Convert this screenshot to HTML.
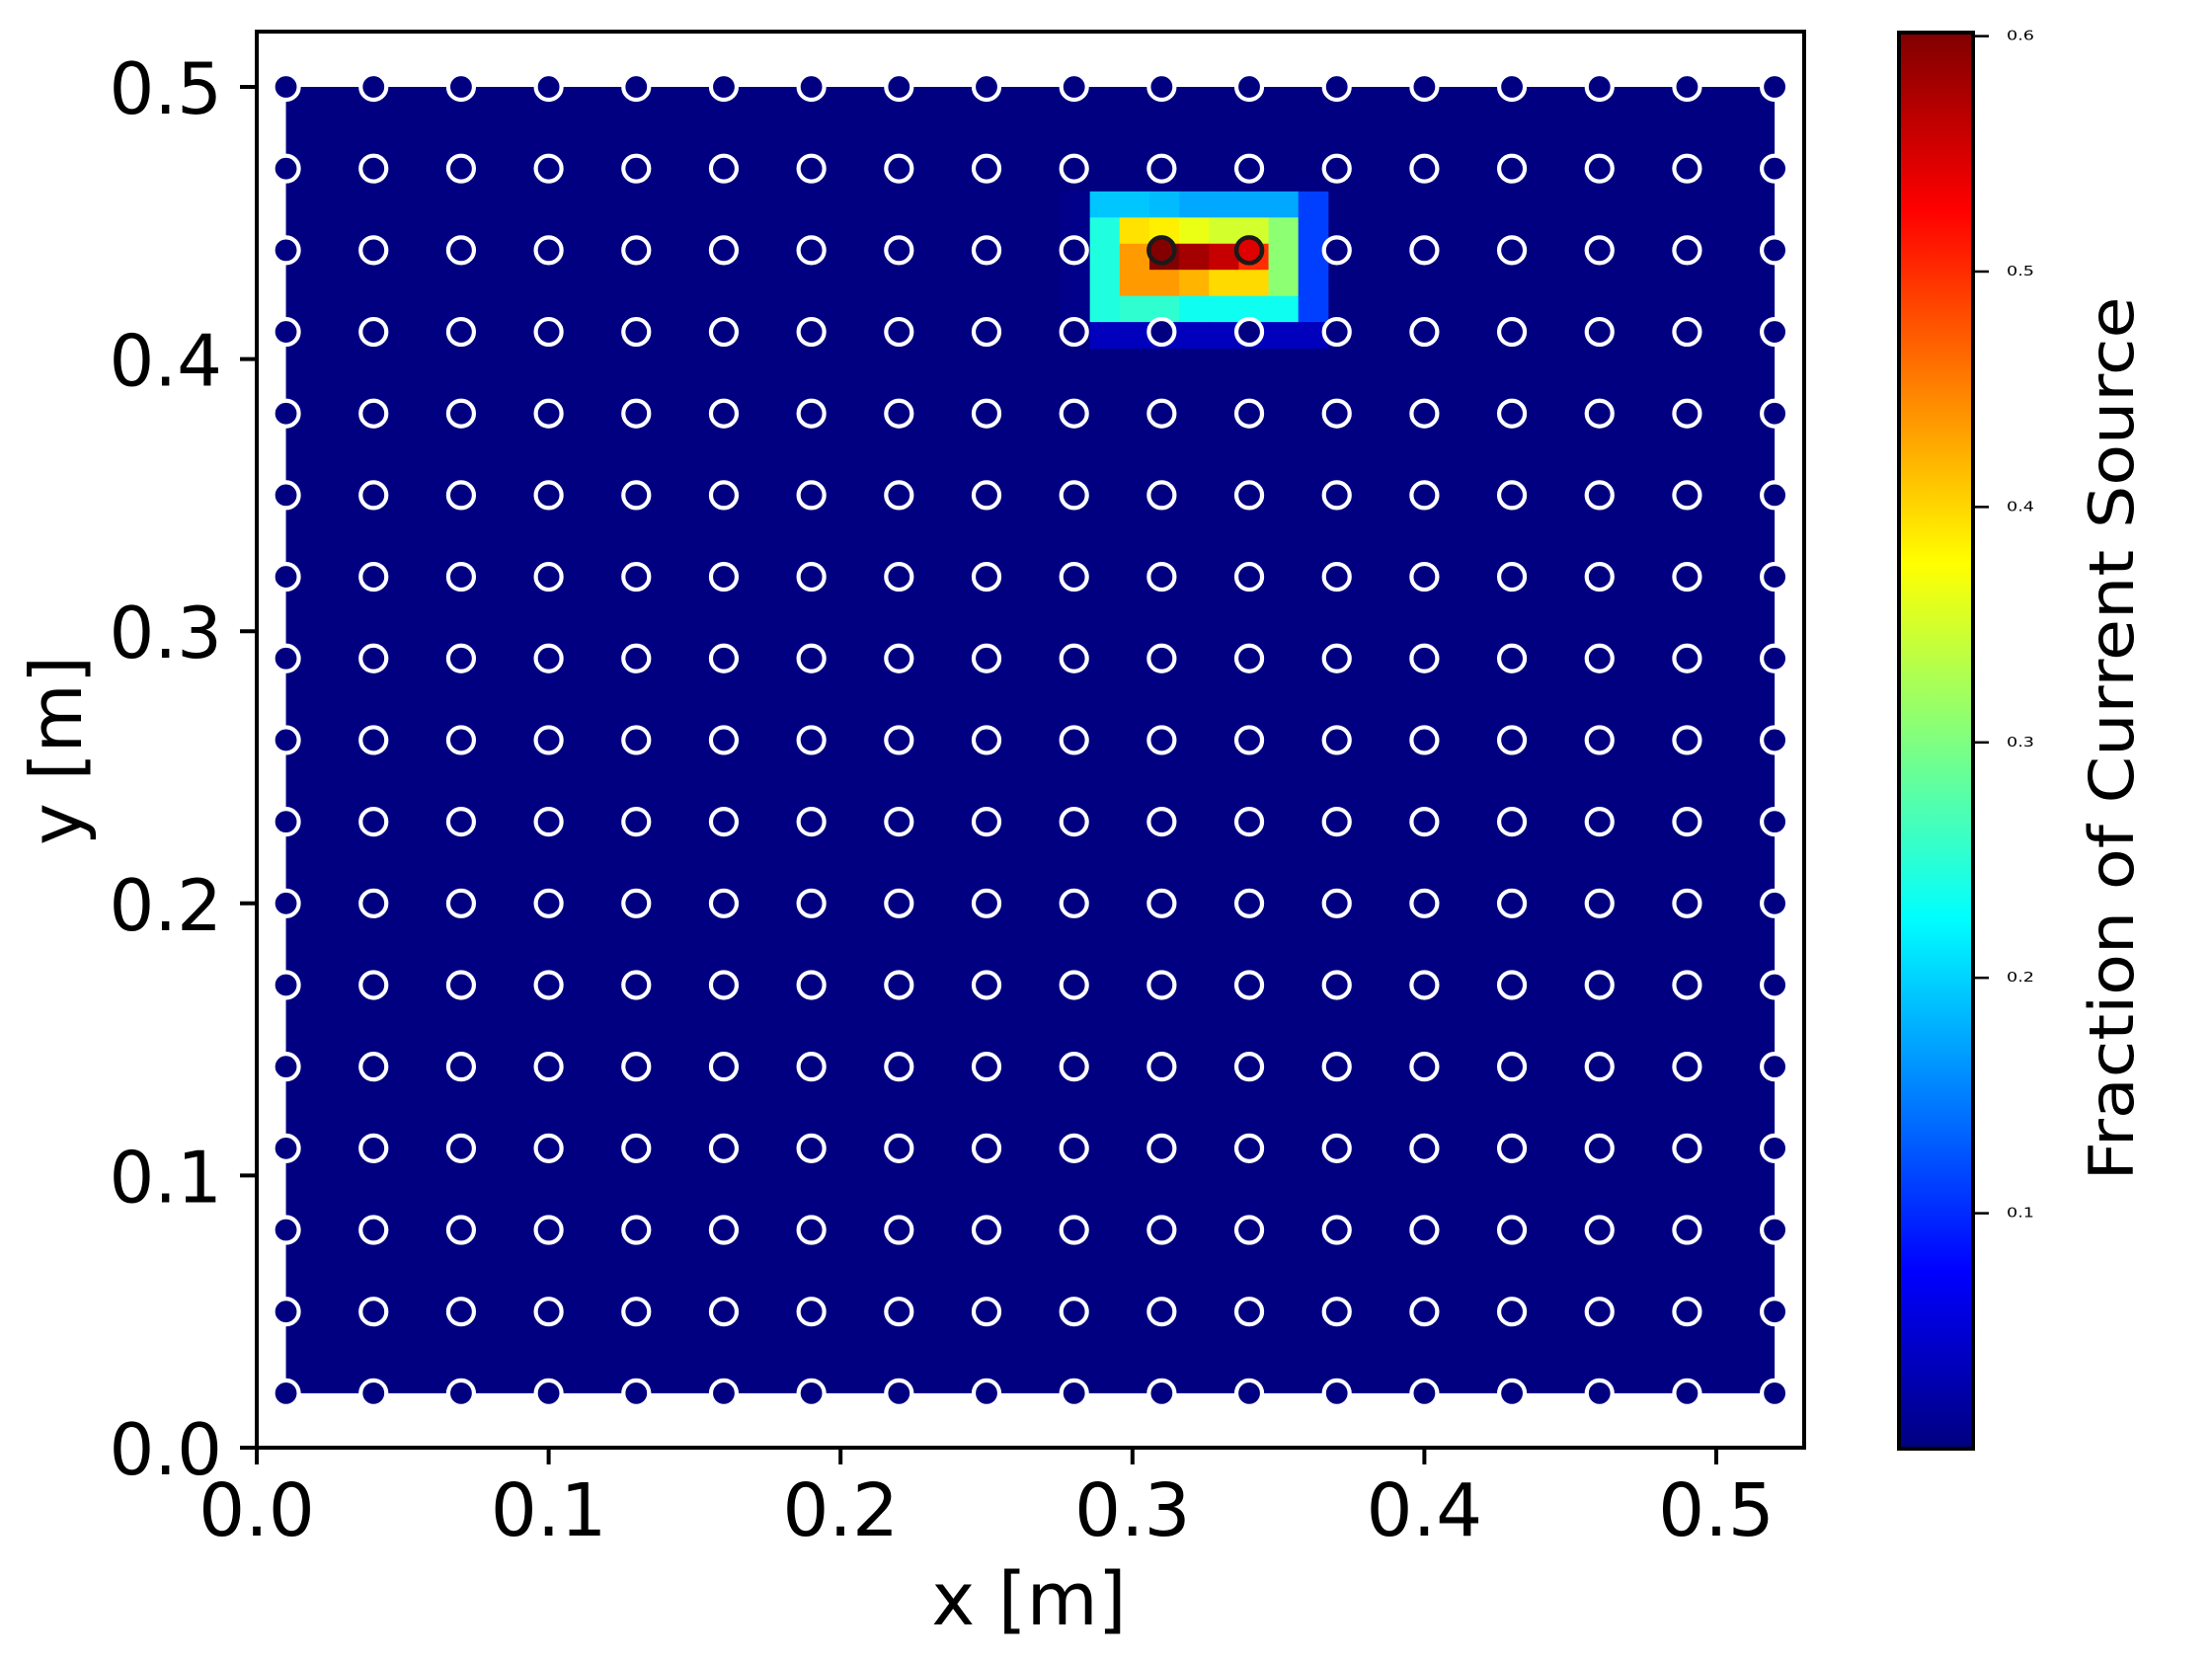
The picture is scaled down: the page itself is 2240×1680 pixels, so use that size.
<!DOCTYPE html>
<html><head><meta charset="utf-8">
<style>
html,body{margin:0;padding:0;background:#fff;}
svg{display:block;font-family:"DejaVu Sans","Liberation Sans",sans-serif;}
</style></head>
<body>
<svg id="chart" width="2240" height="1680" viewBox="0 0 2240 1680" xmlns="http://www.w3.org/2000/svg">
<defs>
<linearGradient id="jetgrad" x1="0" y1="1" x2="0" y2="0"></linearGradient>
<clipPath id="plotclip"><rect x="260" y="32" width="1567" height="1434"/></clipPath>
</defs>
<rect x="0" y="0" width="2240" height="1680" fill="#fff"/>
<g id="heat" clip-path="url(#plotclip)"></g>
<g id="markers" clip-path="url(#plotclip)"></g>
<rect x="260" y="32" width="1567" height="1434" fill="none" stroke="#000" stroke-width="4"/>
<g id="xticks"></g>
<g id="yticks"></g>
<text x="1042" y="1645" font-size="74" text-anchor="middle">x [m]</text>
<text transform="translate(82,760) rotate(-90)" font-size="72" text-anchor="middle">y [m]</text>
<rect x="1923" y="33" width="75" height="1434" fill="url(#jetgrad)" stroke="#000" stroke-width="4"/>
<g id="cbticks"></g>
<text transform="translate(2160,748) rotate(-90)" font-size="62" text-anchor="middle" textLength="895" lengthAdjust="spacingAndGlyphs">Fraction of Current Source</text>
</svg>
<script>
// ---- data ----
const xTickVals = [0.0, 0.1, 0.2, 0.3, 0.4, 0.5];
const xTickLabels = ["0.0", "0.1", "0.2", "0.3", "0.4", "0.5"];
const yTickVals = [0.0, 0.1, 0.2, 0.3, 0.4, 0.5];
const yTickLabels = ["0.0", "0.1", "0.2", "0.3", "0.4", "0.5"];
const cbTickVals = [0.1, 0.2, 0.3, 0.4, 0.5, 0.6];
const cbTickLabels = ["0.1", "0.2", "0.3", "0.4", "0.5", "0.6"];
const electrodeX = [0.01,0.04,0.07,0.10,0.13,0.16,0.19,0.22,0.25,0.28,0.31,0.34,0.37,0.40,0.43,0.46,0.49,0.52];
const electrodeY = [0.02,0.05,0.08,0.11,0.14,0.17,0.20,0.23,0.26,0.29,0.32,0.35,0.38,0.41,0.44,0.47,0.50];
const sourceX = [0.31, 0.34];
const sourceY = [0.44, 0.44];
const sourceVals = [0.6, 0.545];
const gridExtent = [0.01, 0.52, 0.02, 0.50];
const gridCols = 50;
const gridRows = 50;
const backgroundVal = 0.0;
const hotColStart = 26;
const hotRowTop = 45;
const hotVals = [
 [0.006,0.192,0.192,0.186,0.174,0.174,0.174,0.174,0.1125],
 [0.006,0.244,0.393,0.385,0.364,0.35,0.35,0.309,0.1125],
 [0.006,0.244,0.435,0.6,0.58,0.56,0.50,0.309,0.1125],
 [0.006,0.244,0.435,0.435,0.42,0.398,0.398,0.309,0.1125],
 [0.006,0.244,0.253,0.253,0.234,0.234,0.234,0.234,0.1125],
 [0.0,0.036,0.036,0.036,0.036,0.036,0.036,0.036,0.036]
];
const vmin = 0.0, vmax = 0.6015;

// ---- scales ----
const NS = "http://www.w3.org/2000/svg";
const X = v => 260 + v * 2956;
const Y = v => 1466 - v * 2756;
const CY = v => 1467 - (v - vmin) / (vmax - vmin) * 1434;
function jet(v){
  const t = Math.max(0, Math.min(1, (v - vmin) / (vmax - vmin)));
  const c = a => Math.round(255 * Math.max(0, Math.min(1, 1.5 - Math.abs(4 * t - a))));
  return `rgb(${c(3)},${c(2)},${c(1)})`;
}
function mk(tag, attrs, parent){
  const e = document.createElementNS(NS, tag);
  for (const k in attrs) e.setAttribute(k, attrs[k]);
  parent.appendChild(e);
  return e;
}

// colorbar gradient
const grad = document.getElementById('jetgrad');
for (let i = 0; i <= 24; i++) {
  const v = vmin + (vmax - vmin) * i / 24;
  mk('stop', {offset: (i / 24 * 100) + '%', 'stop-color': jet(v)}, grad);
}

// heatmap
const heat = document.getElementById('heat');
const bg = mk('rect', {x: X(gridExtent[0]), y: Y(gridExtent[3]), width: X(gridExtent[1]) - X(gridExtent[0]), height: Y(gridExtent[2]) - Y(gridExtent[3]), fill: jet(backgroundVal)}, heat);


const cw = (gridExtent[1] - gridExtent[0]) / gridCols;
const ch = (gridExtent[3] - gridExtent[2]) / gridRows;
hotVals.forEach((row, ri) => {
  const r = hotRowTop - ri;
  row.forEach((v, ci) => {
    const c = hotColStart + ci;
    const x0 = X(gridExtent[0] + c * cw), x1 = X(gridExtent[0] + (c + 1) * cw);
    const yTop = Y(gridExtent[2] + (r + 1) * ch), yBot = Y(gridExtent[2] + r * ch);
    const cell = mk('rect', {x: x0, y: yTop, width: x1 - x0 + 0.5, height: yBot - yTop + 0.5, fill: jet(v)}, heat);
    
    
  });
});

// electrodes
const mg = document.getElementById('markers');
electrodeY.forEach(yv => electrodeX.forEach(xv => {
  const isSrc = sourceX.some((sx, i) => Math.abs(sx - xv) < 1e-6 && Math.abs(sourceY[i] - yv) < 1e-6);
  if (isSrc) return;
  const c = mk('circle', {cx: X(xv), cy: Y(yv), r: 13, fill: jet(backgroundVal), stroke: '#fff', 'stroke-width': 4.2}, mg);
  
  
}));
sourceX.forEach((sx, i) => {
  const c = mk('circle', {cx: X(sx), cy: Y(sourceY[i]), r: 13, fill: jet(sourceVals[i]), stroke: '#1a1a1a', 'stroke-width': 4.5}, mg);
  
  
});

// x ticks
const xg = document.getElementById('xticks');
xTickVals.forEach((v, i) => {
  const l = mk('line', {x1: X(v), x2: X(v), y1: 1466, y2: 1483, stroke: '#000', 'stroke-width': 4}, xg);
  
  
  const t = mk('text', {x: X(v), y: 1555, 'font-size': 74, 'text-anchor': 'middle'}, xg);
  t.textContent = xTickLabels[i];
  
  
});
// y ticks
const yg = document.getElementById('yticks');
yTickVals.forEach((v, i) => {
  const l = mk('line', {x1: 243, x2: 260, y1: Y(v), y2: Y(v), stroke: '#000', 'stroke-width': 4}, yg);
  
  
  const t = mk('text', {x: 225, y: Y(v) + 27, 'font-size': 72, 'text-anchor': 'end'}, yg);
  t.textContent = yTickLabels[i];
  
  
});
// colorbar ticks
const cg = document.getElementById('cbticks');
cbTickVals.forEach((v, i) => {
  const l = mk('line', {x1: 1998, x2: 2014, y1: CY(v), y2: CY(v), stroke: '#000', 'stroke-width': 2.5}, cg);
  
  
  const t = mk('text', {x: 2032, y: CY(v) + 4, 'font-size': 13, textLength: 28, lengthAdjust: 'spacingAndGlyphs'}, cg);
  t.textContent = cbTickLabels[i];
  
  
});
</script>
</body></html>
